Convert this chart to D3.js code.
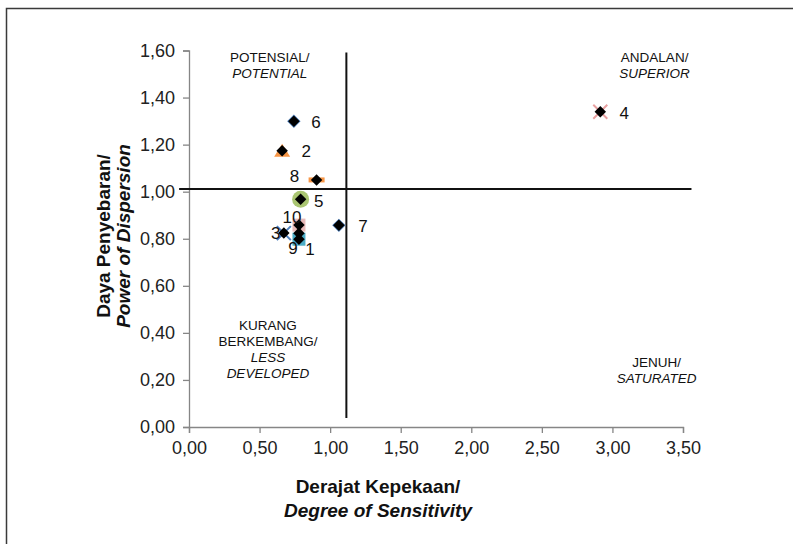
<!DOCTYPE html>
<html>
<head>
<meta charset="utf-8">
<script src="https://cdn.jsdelivr.net/npm/d3@7"></script>
<style>
  html, body { margin: 0; padding: 0; background: #fff; }
  svg { display: block; font-family: "Liberation Sans", Arial, sans-serif; }
</style>
</head>
<body>
<svg id="chart" width="793" height="544"></svg>
<script>
// ---- data ----
const sectors = ["1", "2", "3", "4", "5", "6", "7", "8", "9", "10"];
const sensitivity = [0.779, 0.660, 0.672, 2.914, 0.791, 0.743, 1.062, 0.904, 0.779, 0.779];
const dispersion  = [0.798, 1.174, 0.824, 1.340, 0.968, 1.299, 0.857, 1.050, 0.823, 0.858];
const markerShape = ["square", "triangle", "cross", "cross", "circle", "diamond", "diamond", "dash", "none", "square"];
const markerColor = ["#4bacc6", "#f79646", "#4f81bd", "#e8a0a0", "#9bbb59", "#4f81bd", "#4f81bd", "#f79646", "#ffffff", "#e6b9b8"];
const labelDx = [11, 24, -8, 24, 18, 22, 24, -22, -6, -7];
const labelDy = [10, 0, 0, 1, 2, 1, 1, -4, 15, -8];
const xTicks = [0, 0.5, 1, 1.5, 2, 2.5, 3, 3.5];
const yTicks = [0, 0.2, 0.4, 0.6, 0.8, 1.0, 1.2, 1.4, 1.6];
const quadX = 1.115, quadY = 1.011;
const quadXExtent = [0.038, 1.591];   // vertical line spans these dispersion values
const quadYExtent = [-0.07, 3.56];    // horizontal line spans these sensitivity values
const quadrants = [
  { lines: ["POTENSIAL/", "POTENTIAL"], italic: [false, true], x: 0.573, y: 1.553 },
  { lines: ["ANDALAN/", "SUPERIOR"], italic: [false, true], x: 3.299, y: 1.553 },
  { lines: ["KURANG", "BERKEMBANG/", "LESS", "DEVELOPED"], italic: [false, false, true, true], x: 0.559, y: 0.412 },
  { lines: ["JENUH/", "SATURATED"], italic: [false, true], x: 3.313, y: 0.257 }
];
const xTitle = ["Derajat Kepekaan/", "Degree of Sensitivity"];
const yTitle = ["Daya Penyebaran/", "Power of Dispersion"];

// ---- chart ----
const svg = d3.select("#chart");
const fmt = d => d.toFixed(2).replace(".", ",");

// outer frame (extends beyond the picture at right/bottom)
svg.append("rect").attr("x", 6.5).attr("y", 8.5).attr("width", 900).attr("height", 700)
  .attr("fill", "none").attr("stroke", "#3a3a3a").attr("stroke-width", 1.5);

const x = d3.scaleLinear().domain([0, 3.5]).range([189, 683]);
const y = d3.scaleLinear().domain([0, 1.6]).range([427, 50.5]);

const xAxis = svg.append("g").attr("transform", `translate(0,${y(0)})`)
  .call(d3.axisBottom(x).tickValues(xTicks).tickFormat(fmt).tickSize(6).tickPadding(8));
const yAxis = svg.append("g").attr("transform", `translate(${x(0)},0)`)
  .call(d3.axisLeft(y).tickValues(yTicks).tickFormat(fmt).tickSize(6).tickPadding(8));
[xAxis, yAxis].forEach(a => {
  a.select(".domain").attr("stroke", "#868686").attr("stroke-width", 1.3);
  a.selectAll(".tick line").attr("stroke", "#868686").attr("stroke-width", 1.3);
  a.selectAll(".tick text").attr("fill", "#222").style("font-size", "18px")
    .style("font-family", "'Liberation Sans', Arial, sans-serif");
});

// quadrant lines
svg.append("line").attr("x1", x(quadX)).attr("x2", x(quadX))
  .attr("y1", y(quadXExtent[0])).attr("y2", y(quadXExtent[1]))
  .attr("stroke", "#111").attr("stroke-width", 2);
svg.append("line").attr("x1", x(quadYExtent[0])).attr("x2", x(quadYExtent[1]))
  .attr("y1", y(quadY)).attr("y2", y(quadY))
  .attr("stroke", "#111").attr("stroke-width", 2);

// quadrant labels
quadrants.forEach(q => {
  const t = svg.append("text").attr("text-anchor", "middle").attr("fill", "#111")
    .style("font-size", "13.5px");
  q.lines.forEach((l, i) => {
    t.append("tspan").attr("x", x(q.x)).attr("y", y(q.y) + i * 16)
      .style("font-style", q.italic[i] ? "italic" : "normal").text(l);
  });
});

// colored series markers
const pts = sectors.map((s, i) => ({ s, i, cx: x(sensitivity[i]), cy: y(dispersion[i]) }));
const mg = svg.append("g");
pts.forEach(p => {
  const shape = markerShape[p.i], col = markerColor[p.i];
  const g = mg.append("g").attr("transform", `translate(${p.cx},${p.cy})`);
  if (shape === "square") {
    g.append("rect").attr("x", -6.5).attr("y", -6.5).attr("width", 13).attr("height", 13).attr("fill", col);
  } else if (shape === "triangle") {
    g.append("path").attr("d", "M0,-7L8,6L-8,6Z").attr("fill", col);
  } else if (shape === "circle") {
    g.append("circle").attr("r", 8.5).attr("fill", col).attr("opacity", 0.85);
  } else if (shape === "cross") {
    g.append("path").attr("d", "M-7,-7L7,7M-7,7L7,-7").attr("stroke", col).attr("stroke-width", 2);
  } else if (shape === "dash") {
    g.append("rect").attr("x", -8).attr("y", -2.5).attr("width", 16).attr("height", 5).attr("fill", col);
  } else if (shape === "diamond") {
    g.append("path").attr("d", d3.symbol(d3.symbolSquare, 90)()).attr("transform", "rotate(45)")
      .attr("fill", col);
  }
});

// black diamonds
svg.append("g").selectAll("path").data(pts).join("path")
  .attr("d", d3.symbol(d3.symbolSquare, 66)())
  .attr("transform", d => `translate(${d.cx},${d.cy}) rotate(45)`)
  .attr("fill", "#000");

// point labels
svg.append("g").selectAll("text").data(pts).join("text")
  .attr("x", d => d.cx + labelDx[d.i]).attr("y", d => d.cy + labelDy[d.i])
  .attr("dy", "0.35em").attr("text-anchor", "middle")
  .attr("fill", "#111").style("font-size", "17px").text(d => d.s);

// axis titles
const xt = svg.append("text").attr("text-anchor", "middle").attr("fill", "#111")
  .style("font-size", "19px").style("font-weight", "bold");
xTitle.forEach((l, i) => xt.append("tspan").attr("x", 378).attr("y", 493 + i * 24)
  .style("font-style", i ? "italic" : "normal").text(l));

const yt = svg.append("text").attr("text-anchor", "middle").attr("fill", "#111")
  .attr("transform", "translate(0,236) rotate(-90)")
  .style("font-size", "19px").style("font-weight", "bold");
yTitle.forEach((l, i) => yt.append("tspan").attr("x", 0).attr("y", 110 + i * 20)
  .style("font-style", i ? "italic" : "normal").text(l));
</script>
</body>
</html>
